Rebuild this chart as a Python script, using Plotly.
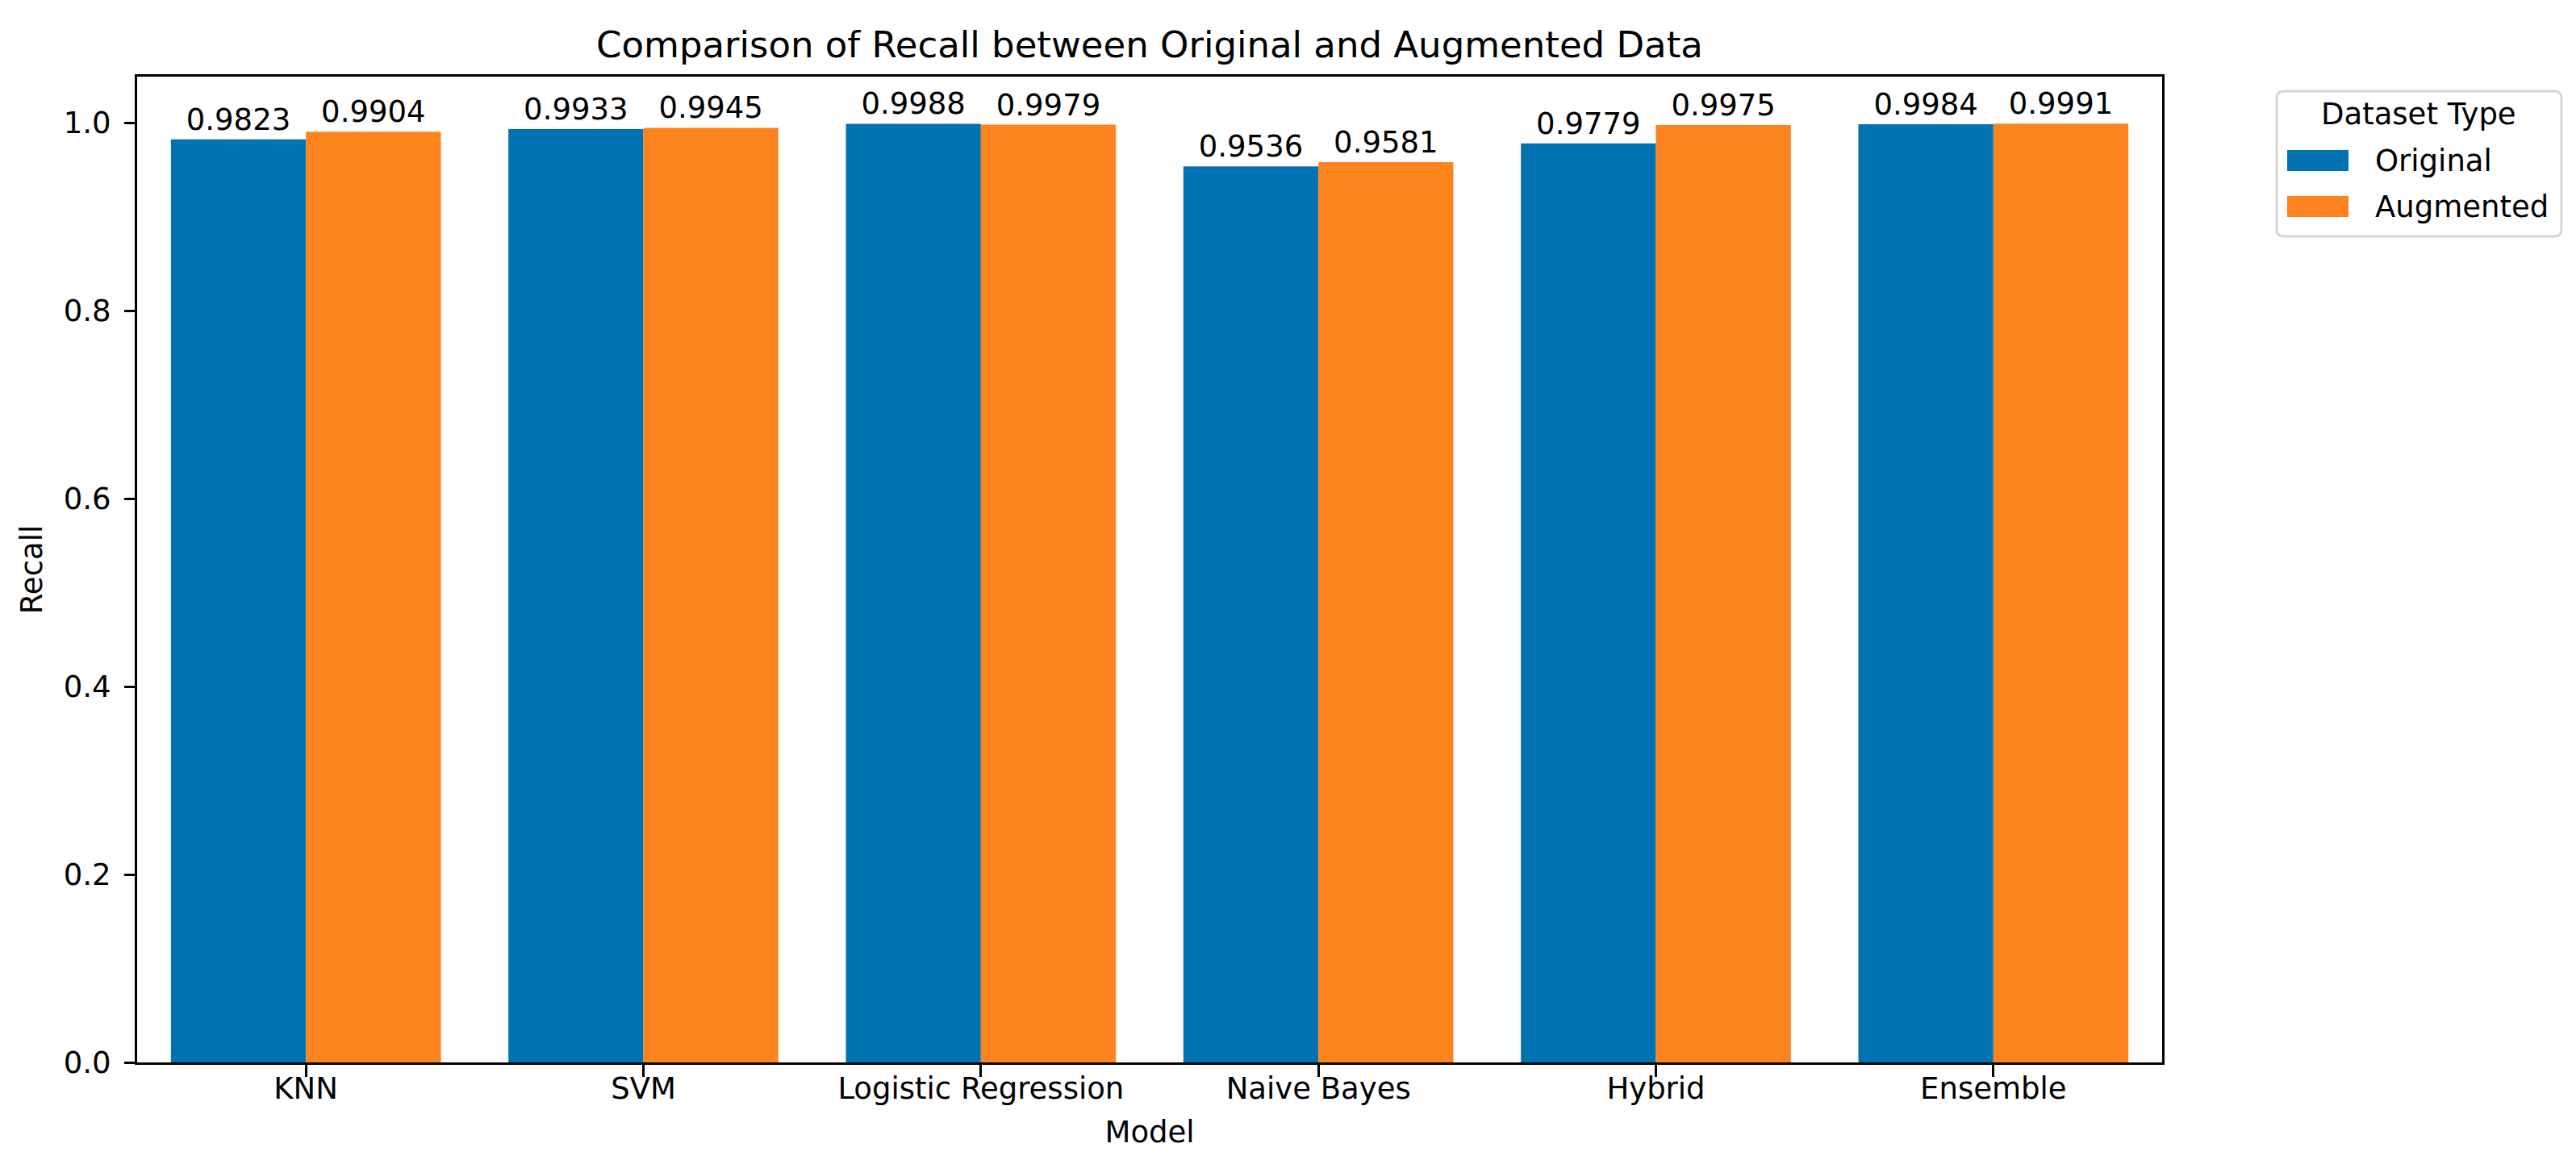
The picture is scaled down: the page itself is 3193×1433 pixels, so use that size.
import plotly.graph_objects as go

# ---- data ----
models = ["KNN", "SVM", "Logistic Regression", "Naive Bayes", "Hybrid", "Ensemble"]
recall_original = [0.9823, 0.9933, 0.9988, 0.9536, 0.9779, 0.9984]
recall_augmented = [0.9904, 0.9945, 0.9979, 0.9581, 0.9975, 0.9991]
series_names = ["Original", "Augmented"]
y_ticks = [0.0, 0.2, 0.4, 0.6, 0.8, 1.0]

# ---- style ----
W, H = 3193, 1433
L, R, T, B = 162, 2672, 87, 1309
FONT = "DejaVu Sans"
BLUE = "#0173B2"
ORANGE = "#FD831F"
FS = 37


def px_x(px):
    return (px - L) / (R - L)


def px_y(py):
    return (B - py) / (B - T)


fig = go.Figure()
for name, vals, col in [(series_names[0], recall_original, BLUE),
                        (series_names[1], recall_augmented, ORANGE)]:
    fig.add_trace(go.Bar(
        x=models, y=vals, name=name,
        marker=dict(color=col, line=dict(width=0)),
        text=vals, texttemplate="%{y:.4f}", textposition="outside",
        textfont=dict(family=FONT, size=FS, color="black"),
        constraintext="none", cliponaxis=False, showlegend=False,
    ))

fig.update_layout(
    width=W, height=H,
    margin=dict(l=L, r=W - R, t=T, b=H - B, autoexpand=False),
    paper_bgcolor="white", plot_bgcolor="white",
    barmode="group", bargap=0.2, bargroupgap=0,
    font=dict(family=FONT, size=FS, color="black"),
    title=dict(text="Comparison of Recall between Original and Augmented Data",
               x=0.5, xref="paper", y=1 - 47 / H, yref="container",
               xanchor="center", yanchor="middle",
               font=dict(family=FONT, size=45, color="black")),
)

fig.update_xaxes(
    type="category", range=[-0.5, len(models) - 0.5],
    showline=True, linecolor="black", linewidth=3, mirror=True,
    ticks="outside", ticklen=15, tickwidth=3, tickcolor="black",
    ticklabelstandoff=-17,
    tickfont=dict(family=FONT, size=FS, color="black"),
    showgrid=False, zeroline=False,
    title=dict(text="Model", font=dict(family=FONT, size=FS, color="black"), standoff=20),
)
fig.update_yaxes(
    range=[0, 1.049], tickvals=y_ticks, tickformat=".1f",
    showline=True, linecolor="black", linewidth=3, mirror=True,
    ticks="outside", ticklen=13, tickwidth=3, tickcolor="black",
    ticklabelstandoff=9,
    tickfont=dict(family=FONT, size=FS, color="black"),
    showgrid=False, zeroline=False,
    title=dict(text="Recall", font=dict(family=FONT, size=FS, color="black"), standoff=15),
)

# ---- legend (drawn in pixel-derived paper coordinates) ----
lx0, lx1, ly0, ly1 = px_x(2814), px_x(3167), px_y(285), px_y(105)
rx, ry = 9 / (R - L), 9 / (B - T)
path = (f"M{lx0 + rx},{ly0} L{lx1 - rx},{ly0} Q{lx1},{ly0} {lx1},{ly0 + ry} "
        f"L{lx1},{ly1 - ry} Q{lx1},{ly1} {lx1 - rx},{ly1} L{lx0 + rx},{ly1} "
        f"Q{lx0},{ly1} {lx0},{ly1 - ry} L{lx0},{ly0 + ry} Q{lx0},{ly0} {lx0 + rx},{ly0} Z")
fig.add_shape(type="path", path=path, xref="paper", yref="paper",
              line=dict(color="#D6D6D6", width=3), fillcolor="rgba(255,255,255,0.8)")
fig.add_annotation(text="Dataset Type", x=px_x(2990), y=px_y(134), xref="paper", yref="paper",
                   xanchor="center", yanchor="middle", showarrow=False,
                   font=dict(family=FONT, size=FS, color="black"))
for i, (name, col) in enumerate([(series_names[0], BLUE), (series_names[1], ORANGE)]):
    top = 178 + i * 57
    fig.add_shape(type="rect", xref="paper", yref="paper",
                  x0=px_x(2827), x1=px_x(2903), y0=px_y(top + 26), y1=px_y(top),
                  fillcolor=col, line=dict(width=0))
    fig.add_annotation(text=name, x=px_x(2934), y=px_y(top + 13), xref="paper", yref="paper",
                       xanchor="left", yanchor="middle", showarrow=False,
                       font=dict(family=FONT, size=FS, color="black"))

fig.write_html("out.html")
